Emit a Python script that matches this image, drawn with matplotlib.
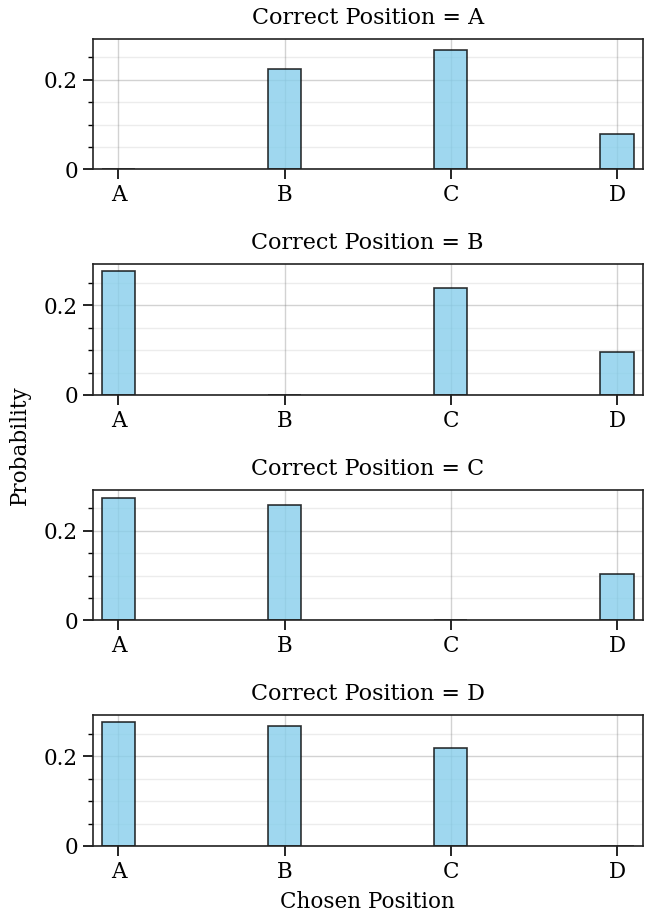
import numpy as np
import matplotlib
matplotlib.use("Agg")
import matplotlib.pyplot as plt
from matplotlib.ticker import MultipleLocator

positions = ["A", "B", "C", "D"]
probs_A = [0.0, 0.223, 0.2666, 0.080]
probs_B = [0.2756, 0.0, 0.2378, 0.0948]
probs_C = [0.274, 0.257, 0.0, 0.103]
probs_D = [0.277, 0.2674, 0.2193, 0.0]
all_probs = [probs_A, probs_B, probs_C, probs_D]

plt.rcParams['font.family'] = ['DejaVu Serif']
plt.rcParams['font.size'] = 15.5

fig, axes = plt.subplots(4, 1, figsize=(6.47, 9.13), dpi=100, sharey=True)
fig.subplots_adjust(left=0.1433, right=0.9934, top=0.9573, bottom=0.0734, hspace=0.728)

x = np.arange(len(positions))
for ax, correct, probs in zip(axes, positions, all_probs):
    ax.bar(x, probs, width=0.2, color="skyblue", alpha=0.8,
           edgecolor="black", linewidth=1.2, zorder=2)
    ax.set_xticks(x)
    ax.set_xticklabels(positions)
    ax.set_xlim(-0.155, 3.155)
    ax.set_title("Correct Position = " + correct, fontsize=16, pad=11)
    ax.yaxis.set_major_locator(MultipleLocator(0.2))
    ax.yaxis.set_minor_locator(MultipleLocator(0.05))
    ax.yaxis.set_major_formatter(plt.FuncFormatter(lambda v, p: "0" if v == 0 else "%g" % v))
    ax.grid(True, which="major", color="gray", alpha=0.35, linewidth=1.0, zorder=0)
    ax.grid(True, which="minor", axis="y", color="gray", alpha=0.15, linewidth=1.0, zorder=0)
    ax.set_axisbelow(True)
    ax.tick_params(which="major", direction="out", length=7, width=1.2, labelsize=15.5)
    ax.tick_params(which="minor", direction="out", length=3.5, width=1.0)
    for s in ax.spines.values():
        s.set_linewidth(1.2)
        s.set_color("#222222")

axes[0].set_ylim(0, 0.2909)
fig.text(0.030, 0.512, "Probability", rotation=90, ha="center", va="center", fontsize=15.5)
fig.text(0.568, 0.0055, "Chosen Position", ha="center", va="baseline", fontsize=15.5)

fig.savefig("out.png", dpi=100)
